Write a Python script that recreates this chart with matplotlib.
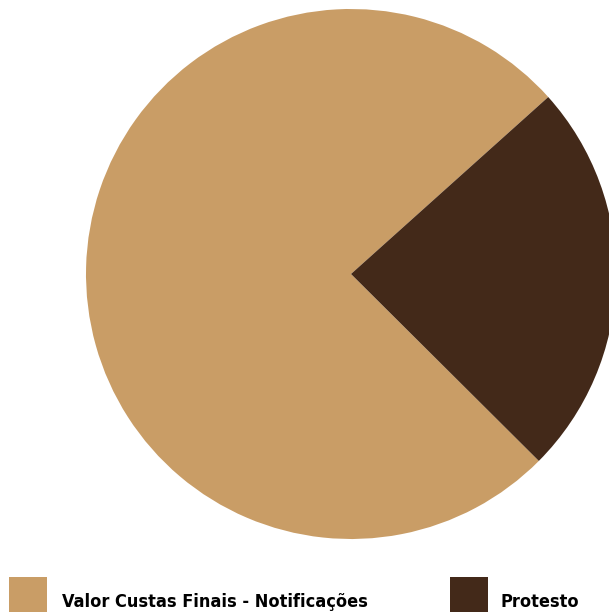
import matplotlib.pyplot as plt
from matplotlib.patches import Rectangle

# --- Data ---
labels = ["Valor Custas Finais - Notificações", "Protesto"]
values = [75.9, 24.1]
colors = ["#C99D66", "#432919"]

W, H = 609, 612
DPI = 100

fig = plt.figure(figsize=(W / DPI, H / DPI), dpi=DPI)

# pie axes: centre (351, 274) px from top-left, radius 265 px
cx, cy, r = 351, 274, 265
ax = fig.add_axes([(cx - r) / W, (H - cy - r) / H, 2 * r / W, 2 * r / H])
ax.pie(values, colors=colors, startangle=41.9, counterclock=True,
       radius=1.0, wedgeprops=dict(linewidth=0))
ax.set_xlim(-1, 1)
ax.set_ylim(-1, 1)
ax.set_aspect("equal")
ax.axis("off")

# legend drawn by hand along the bottom edge
font = dict(family="DejaVu Sans", stretch="condensed", weight="bold",
            size=13, color="black")
swatches = [(8.6, 62.5), (450, 500)]
for (sx, tx), lab, col in zip(swatches, labels, colors):
    fig.patches.append(Rectangle((sx / W, 0), 38 / W, 35 / H,
                                 transform=fig.transFigure, color=col, lw=0))
    t = fig.text(tx / W, (H - 607) / H, lab, ha="left", va="baseline", **font)

fig.savefig("out.png", dpi=DPI)
